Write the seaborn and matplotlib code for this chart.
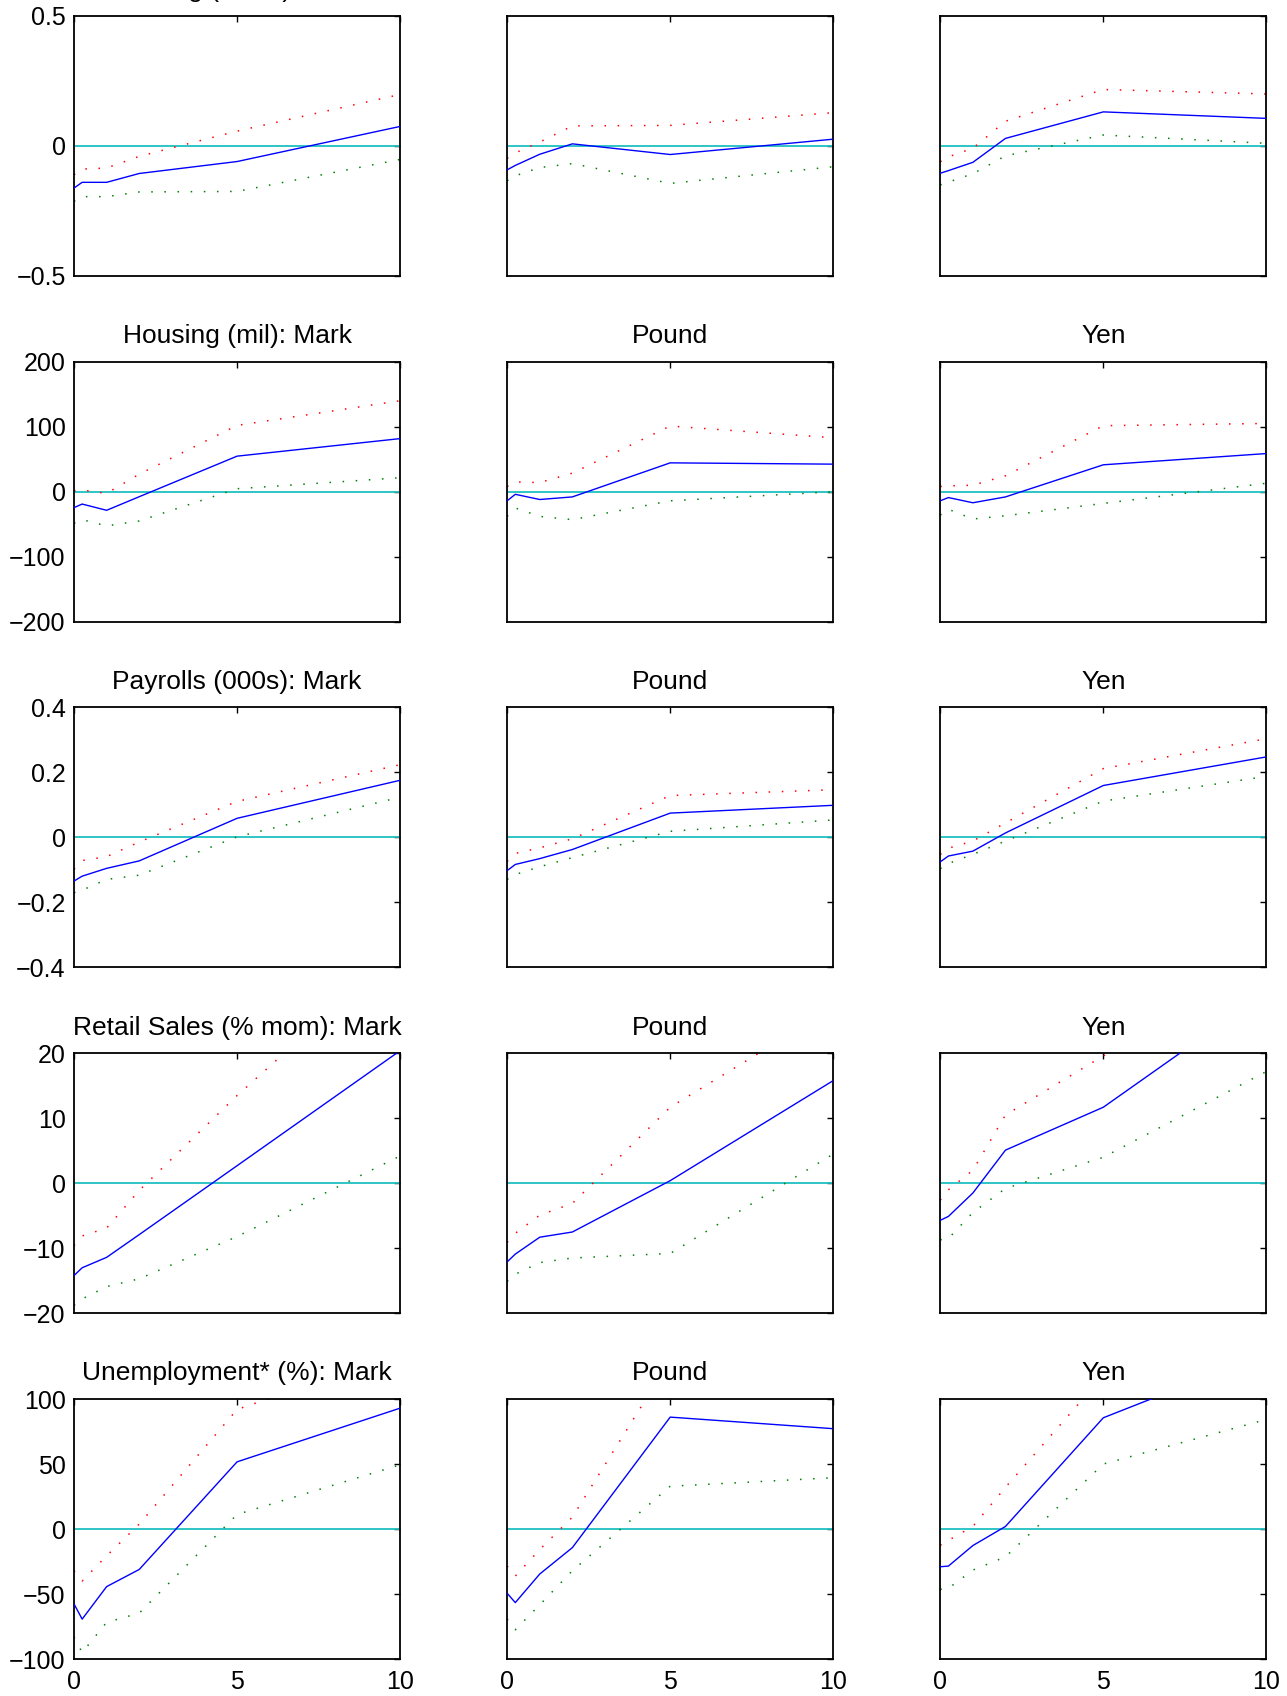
import matplotlib
matplotlib.use("Agg")
import matplotlib.pyplot as plt
import seaborn as sns

# impulse horizons (days)
horizon = [0, 0.25, 1, 2, 5, 10]

currencies = ["Mark", "Pound", "Yen"]
row_titles = ["Leading (index)", "Housing (mil)", "Payrolls (000s)",
              "Retail Sales (% mom)", "Unemployment* (%)"]

# row 1
lead_mark_mid = [-0.162, -0.14, -0.14, -0.106, -0.06, 0.075]
lead_mark_hi = [-0.111, -0.089, -0.085, -0.04, 0.057, 0.198]
lead_mark_lo = [-0.213, -0.195, -0.195, -0.177, -0.175, -0.052]
lead_pound_mid = [-0.092, -0.075, -0.032, 0.008, -0.033, 0.026]
lead_pound_hi = [-0.048, -0.027, 0.015, 0.077, 0.079, 0.128]
lead_pound_lo = [-0.134, -0.115, -0.083, -0.068, -0.144, -0.080]
lead_yen_mid = [-0.105, -0.095, -0.063, 0.029, 0.131, 0.106]
lead_yen_hi = [-0.061, -0.042, -0.009, 0.095, 0.217, 0.2]
lead_yen_lo = [-0.15, -0.139, -0.107, -0.038, 0.042, 0.01]

# row 2
house_mark_mid = [-24.5, -19, -28.6, -7.7, 54.7, 81.7]
house_mark_hi = [1.5, 2.5, -2.5, 27, 102, 140]
house_mark_lo = [-48.5, -43, -52.6, -45, 4.6, 21.5]
house_pound_mid = [-14, -4, -12, -8, 44.4, 42.4]
house_pound_hi = [8, 15, 14, 28.6, 101, 83]
house_pound_lo = [-38, -25, -38, -43, -14, 0]
house_yen_mid = [-14, -9, -17, -8, 41.4, 58.7]
house_yen_hi = [8, 9, 10, 24.5, 101.6, 105]
house_yen_lo = [-36, -27, -42, -37, -18, 13]

# row 3
pay_mark_mid = [-0.134, -0.119, -0.095, -0.072, 0.059, 0.176]
pay_mark_hi = [-0.098, -0.071, -0.059, -0.014, 0.111, 0.224]
pay_mark_lo = [-0.17, -0.162, -0.129, -0.116, 0.002, 0.124]
pay_pound_mid = [-0.102, -0.083, -0.065, -0.037, 0.075, 0.099]
pay_pound_hi = [-0.074, -0.049, -0.032, -0.004, 0.129, 0.147]
pay_pound_lo = [-0.129, -0.114, -0.09, -0.062, 0.019, 0.054]
pay_yen_mid = [-0.075, -0.057, -0.042, 0.014, 0.16, 0.248]
pay_yen_hi = [-0.052, -0.033, -0.011, 0.045, 0.212, 0.304]
pay_yen_lo = [-0.096, -0.08, -0.052, -0.011, 0.112, 0.188]

# row 4
retail_mark_mid = [-14.2, -13.0, -11.4, -7.9, 2.7, 20.4]
retail_mark_hi = [-9.6, -8.1, -6.9, -1.1, 13.5, 36]
retail_mark_lo = [-18.8, -17.8, -15.9, -14.7, -8.2, 4.2]
retail_pound_mid = [-12.1, -10.9, -8.3, -7.5, 0.4, 15.8]
retail_pound_hi = [-9.1, -7.7, -4.9, -3.1, 11.7, 27]
retail_pound_lo = [-15.1, -14.0, -12.2, -11.5, -10.8, 4.5]
retail_yen_mid = [-5.7, -5.1, -1.5, 5.1, 11.7, 29.4]
retail_yen_hi = [-2.6, -1.0, 2.0, 10.5, 19.6, 34]
retail_yen_lo = [-8.7, -8.5, -4.5, -0.8, 4.0, 17.2]

# row 5
unemp_mark_mid = [-57.6, -69.3, -44.3, -31.1, 51.7, 93]
unemp_mark_hi = [-32, -40, -20.6, 3.8, 92, 135]
unemp_mark_lo = [-83, -95, -71.8, -64.7, 11.2, 49.4]
unemp_pound_mid = [-49.4, -56.6, -34.6, -14.3, 86.1, 77.2]
unemp_pound_hi = [-28.5, -36.2, -15.8, 9.2, 130, 180]
unemp_pound_lo = [-69.3, -77.5, -58.3, -32.1, 32.9, 39.5]
unemp_yen_mid = [-29, -28.5, -12.7, 2.0, 85.6, 135]
unemp_yen_hi = [-12.5, -8.7, 2.0, 32.1, 118, 170]
unemp_yen_lo = [-46.4, -45.6, -31.6, -21.4, 50, 84.3]

y_ticks = [[-0.5, 0, 0.5], [-200, -100, 0, 100, 200], [-0.4, -0.2, 0, 0.2, 0.4],
           [-20, -10, 0, 10, 20], [-100, -50, 0, 50, 100]]
y_labels = [["\u22120.5", "0", "0.5"],
            ["\u2212200", "\u2212100", "0", "100", "200"],
            ["\u22120.4", "\u22120.2", "0", "0.2", "0.4"],
            ["\u221220", "\u221210", "0", "10", "20"],
            ["\u2212100", "\u221250", "0", "50", "100"]]

panels = [
    [(lead_mark_mid, lead_mark_hi, lead_mark_lo),
     (lead_pound_mid, lead_pound_hi, lead_pound_lo),
     (lead_yen_mid, lead_yen_hi, lead_yen_lo)],
    [(house_mark_mid, house_mark_hi, house_mark_lo),
     (house_pound_mid, house_pound_hi, house_pound_lo),
     (house_yen_mid, house_yen_hi, house_yen_lo)],
    [(pay_mark_mid, pay_mark_hi, pay_mark_lo),
     (pay_pound_mid, pay_pound_hi, pay_pound_lo),
     (pay_yen_mid, pay_yen_hi, pay_yen_lo)],
    [(retail_mark_mid, retail_mark_hi, retail_mark_lo),
     (retail_pound_mid, retail_pound_hi, retail_pound_lo),
     (retail_yen_mid, retail_yen_hi, retail_yen_lo)],
    [(unemp_mark_mid, unemp_mark_hi, unemp_mark_lo),
     (unemp_pound_mid, unemp_pound_hi, unemp_pound_lo),
     (unemp_yen_mid, unemp_yen_hi, unemp_yen_lo)],
]

sns.set_style("white")
plt.rcParams['font.family'] = ['Liberation Sans', 'DejaVu Sans']
plt.rcParams['text.color'] = 'black'

fig, axes = plt.subplots(5, 3, figsize=(12.87, 16.96), dpi=100)
fig.subplots_adjust(left=0.0575, right=0.984, top=0.9906, bottom=0.0218,
                    wspace=0.328, hspace=0.33)

dots = (0, (1, 7.6))

for r in range(5):
    for c in range(3):
        ax = axes[r, c]
        mid, hi, lo = panels[r][c]
        ax.axhline(0, color='#1fc0c0', linewidth=1.3, zorder=1)
        sns.lineplot(x=horizon, y=mid, ax=ax, color='blue', linewidth=1.0,
                     errorbar=None, sort=False, zorder=3)
        sns.lineplot(x=horizon, y=hi, ax=ax, color='red', linewidth=1.1,
                     linestyle=dots, errorbar=None, sort=False, zorder=2)
        sns.lineplot(x=horizon, y=lo, ax=ax, color='green', linewidth=1.1,
                     linestyle=dots, errorbar=None, sort=False, zorder=2)
        ax.set_xlim(0, 10)
        ax.set_ylim(y_ticks[r][0], y_ticks[r][-1])
        ax.set_xticks([0, 5, 10])
        ax.set_yticks(y_ticks[r])
        if c == 0:
            ax.set_yticklabels(y_labels[r])
        else:
            ax.set_yticklabels([])
        if r == 4:
            ax.set_xticklabels(["0", "5", "10"])
        else:
            ax.set_xticklabels([])
        ax.tick_params(direction='in', length=4, width=1.0, top=True, right=True,
                       labelsize=18, pad=6, colors='black')
        ax.tick_params(axis='x', pad=8)
        for s in ax.spines.values():
            s.set_visible(True)
            s.set_color('black')
            s.set_linewidth(1.3)
        title = f"{row_titles[r]}: {currencies[c]}" if c == 0 else currencies[c]
        ax.set_title(title, fontsize=19, pad=13.5, color='black')

fig.savefig("out.png", dpi=100, facecolor='white')
